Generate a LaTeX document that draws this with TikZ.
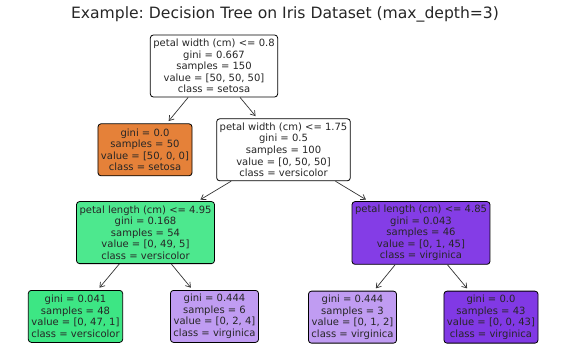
\documentclass[tikz,border=0pt]{standalone}
\usepackage{fontspec}
\setmainfont{DejaVu Sans}
\usepackage{xcolor}
\usepackage{tikz}
\usetikzlibrary{arrows.meta,positioning}
\definecolor{setosaor}{HTML}{E58139}
\definecolor{versigrn}{HTML}{4DE88E}
\definecolor{versigrnd}{HTML}{3DE684}
\definecolor{virgpur}{HTML}{843DE6}
\definecolor{virgpurl}{HTML}{C09CF2}
\definecolor{virgpurd}{HTML}{8139E5}
\colorlet{inktxt}{black!85}
\frenchspacing

\begin{document}
\begin{tikzpicture}[x=1pt,y=-1pt,font=\fontsize{10}{11.6}\selectfont]
          \tikzstyle{split}=[draw,line width=0.8pt,rounded corners=3pt,inner xsep=3pt,minimum height=62pt,align=center,fill=white,text=inktxt]
          \tikzstyle{leaf}=[split,minimum height=52pt]
          \tikzstyle{edge}=[-{Straight Barb[length=4.5pt,width=6pt]},line width=0.7pt,draw=black!80,shorten >=3pt]
          \useasboundingbox (0,0) rectangle (567,363);
          \node[font=\fontsize{15.6}{18}\selectfont,text=inktxt] (title) at (285,14) {Example: Decision Tree on Iris Dataset (max\_depth=3)};
          % depth 0
          \node[split] (root) at (214,66) {petal width (cm) <= 0.8\\gini = 0.667\\samples = 150\\value = [50, 50, 50]\\class = setosa};
          % depth 1
          \node[leaf,fill=setosaor,below=26pt of root,xshift=-69pt] (n1) {gini = 0.0\\samples = 50\\value = [50, 0, 0]\\class = setosa};
          \node[split,below=21pt of root,xshift=69.5pt] (n2) {petal width (cm) <= 1.75\\gini = 0.5\\samples = 100\\value = [0, 50, 50]\\class = versicolor};
          % depth 2
          \node[split,fill=versigrn,below=20pt of n2,xshift=-138pt] (n3) {petal length (cm) <= 4.95\\gini = 0.168\\samples = 54\\value = [0, 49, 5]\\class = versicolor};
          \node[split,fill=virgpur,below=20pt of n2,xshift=137.5pt] (n4) {petal length (cm) <= 4.85\\gini = 0.043\\samples = 46\\value = [0, 1, 45]\\class = virginica};
          % depth 3 (leaves)
          \node[leaf,fill=versigrnd,below=26pt of n3,xshift=-70pt] (n5) {gini = 0.041\\samples = 48\\value = [0, 47, 1]\\class = versicolor};
          \node[leaf,fill=virgpurl,below=26pt of n3,xshift=69pt] (n6) {gini = 0.444\\samples = 6\\value = [0, 2, 4]\\class = virginica};
          \node[leaf,fill=virgpurl,below=26pt of n4,xshift=-68.5pt] (n7) {gini = 0.444\\samples = 3\\value = [0, 1, 2]\\class = virginica};
          \node[leaf,fill=virgpurd,below=26pt of n4,xshift=70pt] (n8) {gini = 0.0\\samples = 43\\value = [0, 0, 43]\\class = virginica};
          % parent -> child arrows
          \draw[edge] (root) -- (n1);
          \draw[edge] (root) -- (n2);
          \draw[edge] (n2) -- (n3);
          \draw[edge] (n2) -- (n4);
          \draw[edge] (n3) -- (n5);
          \draw[edge] (n3) -- (n6);
          \draw[edge] (n4) -- (n7);
          \draw[edge] (n4) -- (n8);
        \end{tikzpicture}
\end{document}
